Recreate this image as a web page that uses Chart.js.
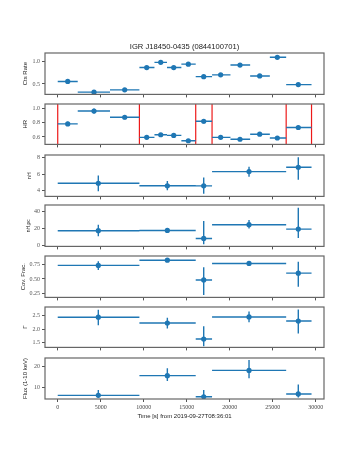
<!DOCTYPE html>
<html>
<head>
<meta charset="UTF-8">
<title>IGR J18450-0435 (0844100701)</title>
<script src="https://cdn.jsdelivr.net/npm/chart.js"></script>
<style>
  html, body { margin: 0; padding: 0; background: #fff; }
  #wrap { position: relative; width: 360px; height: 450px; }
  .panel { position: absolute; left: 0; width: 360px; }
</style>
</head>
<body>
<div id="wrap"></div>

<script>
const figTitle = 'IGR J18450-0435 (0844100701)';

// ---- 13 bins (count rate and hardness ratio) ----
const tFine   = [1163, 4220, 7790, 10350, 11980, 13490, 15190, 16980, 18950, 21200, 23490, 25540, 27980];
const tFineLo = [0, 2326, 6080, 9500, 11250, 12710, 14380, 16050, 17950, 20090, 22380, 24670, 26570];
const tFineHi = [2326, 6080, 9500, 11250, 12710, 14380, 16050, 17950, 20090, 22380, 24670, 26570, 29520];

const ctsRate    = [0.555, 0.32, 0.37, 0.86, 0.975, 0.86, 0.935, 0.66, 0.70, 0.915, 0.675, 1.085, 0.485];
const ctsRateErr = [0.02, 0.015, 0.015, 0.025, 0.025, 0.025, 0.025, 0.02, 0.02, 0.025, 0.02, 0.025, 0.02];

const hr    = [0.786, 0.968, 0.88, 0.595, 0.632, 0.623, 0.547, 0.823, 0.595, 0.568, 0.64, 0.586, 0.735];
const hrErr = [0.03, 0.035, 0.03, 0.02, 0.022, 0.02, 0.018, 0.03, 0.02, 0.018, 0.022, 0.02, 0.028];

// red markers: spectral interval boundaries
const intervalEdges = [0, 9500, 16050, 17950, 26570, 29520];

// ---- 5 spectral intervals ----
const tSpec   = [4720, 12750, 16980, 22250, 27980];
const tSpecLo = [0, 9500, 16050, 17950, 26570];
const tSpecHi = [9500, 16050, 17950, 26570, 29520];

const nH     = [4.91, 4.61, 4.6, 6.29, 6.81];
const nHLo   = [0.96, 0.54, 0.94, 0.62, 1.48];
const nHHi   = [0.92, 0.57, 1.0, 0.57, 1.19];

const nHpc   = [17.0, 17.3, 7.9, 24.1, 18.9];
const nHpcLo = [6.5, 2.3, 6.8, 4.5, 10.6];
const nHpcHi = [7.1, 2.7, 20.4, 5.4, 25.3];

const covFrac   = [0.738, 0.829, 0.483, 0.772, 0.602];
const covFracLo = [0.08, 0.015, 0.265, 0.045, 0.24];
const covFracHi = [0.073, 0.015, 0.223, 0.034, 0.2];

const gamma   = [2.43, 2.22, 1.64, 2.44, 2.29];
const gammaLo = [0.29, 0.2, 0.26, 0.19, 0.45];
const gammaHi = [0.27, 0.19, 0.46, 0.2, 0.42];

const flux   = [5.9, 15.6, 5.2, 18.2, 6.6];
const fluxLo = [1.1, 2.64, 1.1, 3.9, 1.8];
const fluxHi = [2.6, 3.6, 3.3, 5.1, 4.7];

// ---- ticks ----
const xTicks = [0, 5000, 10000, 15000, 20000, 25000, 30000];
const xTickLabels = ['0', '5000', '10000', '15000', '20000', '25000', '30000'];

const blue = '#1f77b4';
const tickFont = { family: "'Liberation Serif', 'DejaVu Serif', serif", size: 6 };
const labelFont = { family: "'Liberation Sans', Arial, sans-serif", size: 6 };

// box around each axes, plus the figure title centred over the top axes
const boxPlugin = {
    id: 'box',
    afterDraw(chart) {
        const a = chart.chartArea, ctx = chart.ctx;
        ctx.save();
        ctx.strokeStyle = '#666';
        ctx.lineWidth = 1.2;
        ctx.strokeRect(a.left, a.top, a.right - a.left, a.bottom - a.top);
        const t = chart.options.plugins.box && chart.options.plugins.box.title;
        if (t) {
            ctx.fillStyle = '#222';
            ctx.font = "7.6px 'Liberation Sans', Arial, sans-serif";
            ctx.textAlign = 'center';
            ctx.textBaseline = 'middle';
            ctx.fillText(t, (a.left + a.right) / 2, a.top - 6);
        }
        ctx.restore();
    }
};

function errorDatasets(xs, xlo, xhi, ys, ylo, yhi) {
    const h = [], v = [], p = [];
    xs.forEach((x, i) => {
        h.push({x: xlo[i], y: ys[i]}, {x: xhi[i], y: ys[i]}, {x: xhi[i], y: null});
        v.push({x: x, y: ys[i] - ylo[i]}, {x: x, y: ys[i] + yhi[i]}, {x: x, y: null});
        p.push({x: x, y: ys[i]});
    });
    return [
        { data: p, pointRadius: 2.6, pointBackgroundColor: blue, pointBorderWidth: 0, showLine: false, order: 0 },
        { data: h, showLine: true, borderColor: blue, borderWidth: 1.4, pointRadius: 0, spanGaps: false, order: 1 },
        { data: v, showLine: true, borderColor: blue, borderWidth: 1.4, pointRadius: 0, spanGaps: false, order: 1 }
    ];
}

function makePanel(cfg) {
    const div = document.createElement('div');
    div.className = 'panel';
    div.style.top = cfg.top + 'px';
    div.style.height = cfg.height + 'px';
    const cv = document.createElement('canvas');
    div.appendChild(cv);
    document.getElementById('wrap').appendChild(div);

    const datasets = errorDatasets(cfg.xs, cfg.xlo, cfg.xhi, cfg.ys, cfg.ylo, cfg.yhi);
    if (cfg.edges) {
        const r = [];
        cfg.edges.forEach(e => {
            r.push({x: e, y: cfg.ymin}, {x: e, y: cfg.ymax}, {x: e, y: null});
        });
        datasets.push({ data: r, showLine: true, borderColor: 'rgba(235,0,0,0.9)', borderWidth: 1.2,
                        pointRadius: 0, spanGaps: false, order: 2 });
    }

    new Chart(cv, {
        type: 'scatter',
        data: { datasets: datasets },
        options: {
            responsive: true,
            maintainAspectRatio: false,
            animation: false,
            layout: { padding: { top: cfg.padTop, right: 36, bottom: 0, left: 0 } },
            plugins: {
                legend: { display: false },
                tooltip: { enabled: false },
                box: { title: cfg.title || null }
            },
            scales: {
                x: {
                    type: 'linear', min: -1480, max: 30970,
                    border: { display: false },
                    grid: { display: true, drawOnChartArea: false, drawTicks: true, tickLength: 3, color: '#555' },
                    afterBuildTicks: s => { s.ticks = xTicks.map(v => ({value: v})); },
                    afterFit: s => { s.height = cfg.xHeight; },
                    ticks: {
                        display: !!cfg.xTitle, color: '#444', font: tickFont, padding: 2, maxRotation: 0,
                        callback: (v, i) => xTickLabels[i]
                    },
                    title: cfg.xTitle ? { display: true, text: cfg.xTitle, color: '#222', font: labelFont,
                                          padding: { top: 0, bottom: 6.4 } } : { display: false }
                },
                y: {
                    type: 'linear', min: cfg.ymin, max: cfg.ymax,
                    border: { display: false },
                    grid: { display: true, drawOnChartArea: false, drawTicks: true, tickLength: 3, color: '#555' },
                    afterBuildTicks: s => { s.ticks = cfg.yTicks.map(v => ({value: v})); },
                    afterFit: s => { s.width = 45; },
                    ticks: { color: '#555', font: tickFont, padding: 2, callback: (v, i) => cfg.yTickLabels[i] },
                    title: { display: true, text: cfg.yTitle, color: '#222',
                             font: cfg.yTitleFont || labelFont, padding: { top: cfg.yTitlePad || 22, bottom: 0 } }
                }
            }
        },
        plugins: [boxPlugin]
    });
}

// panel layout: chart area top/bottom in page pixels
function panelBox(areaTop, areaBottom, xHeight) {
    return { top: areaTop - 15, height: areaBottom - areaTop + 15 + xHeight, padTop: 15, xHeight: xHeight };
}

makePanel(Object.assign(panelBox(53, 96, 4), {
    title: figTitle,
    xs: tFine, xlo: tFineLo, xhi: tFineHi, ys: ctsRate, ylo: ctsRateErr, yhi: ctsRateErr,
    ymin: 0.27, ymax: 1.18, yTicks: [0.5, 1.0], yTickLabels: ['0.5', '1.0'], yTitle: 'Cts Rate'
}));

makePanel(Object.assign(panelBox(104, 146, 4), {
    xs: tFine, xlo: tFineLo, xhi: tFineHi, ys: hr, ylo: hrErr, yhi: hrErr, edges: intervalEdges,
    ymin: 0.495, ymax: 1.068, yTicks: [0.6, 0.8, 1.0], yTickLabels: ['0.6', '0.8', '1.0'], yTitle: 'HR'
}));

makePanel(Object.assign(panelBox(155, 198, 4), {
    xs: tSpec, xlo: tSpecLo, xhi: tSpecHi, ys: nH, ylo: nHLo, yhi: nHHi,
    ymin: 3.35, ymax: 8.26, yTicks: [4, 6, 8], yTickLabels: ['4', '6', '8'], yTitle: 'nH',
    yTitleFont: { family: "'Liberation Sans', Arial, sans-serif", size: 5 }, yTitlePad: 27
}));

makePanel(Object.assign(panelBox(205, 248, 4), {
    xs: tSpec, xlo: tSpecLo, xhi: tSpecHi, ys: nHpc, ylo: nHpcLo, yhi: nHpcHi,
    ymin: -1.5, ymax: 47.3, yTicks: [0, 20, 40], yTickLabels: ['0', '20', '40'], yTitle: 'nH,pc',
    yTitleFont: { family: "'Liberation Sans', Arial, sans-serif", size: 5 }, yTitlePad: 26
}));

makePanel(Object.assign(panelBox(256, 299, 4), {
    xs: tSpec, xlo: tSpecLo, xhi: tSpecHi, ys: covFrac, ylo: covFracLo, yhi: covFracHi,
    ymin: 0.177, ymax: 0.903, yTicks: [0.25, 0.5, 0.75], yTickLabels: ['0.25', '0.50', '0.75'],
    yTitle: 'Cov. Frac.', yTitlePad: 20
}));

makePanel(Object.assign(panelBox(307, 349, 4), {
    xs: tSpec, xlo: tSpecLo, xhi: tSpecHi, ys: gamma, ylo: gammaLo, yhi: gammaHi,
    ymin: 1.335, ymax: 2.80, yTicks: [1.5, 2.0, 2.5], yTickLabels: ['1.5', '2.0', '2.5'], yTitle: 'Γ'
}));

makePanel(Object.assign(panelBox(358, 399, 27), {
    xs: tSpec, xlo: tSpecLo, xhi: tSpecHi, ys: flux, ylo: fluxLo, yhi: fluxHi,
    ymin: 4.1, ymax: 24.3, yTicks: [10, 20], yTickLabels: ['10', '20'], yTitle: 'Flux (1-10 keV)',
    xTitle: 'Time [s] from 2019-09-27T08:36:01'
}));
</script>
</body>
</html>
